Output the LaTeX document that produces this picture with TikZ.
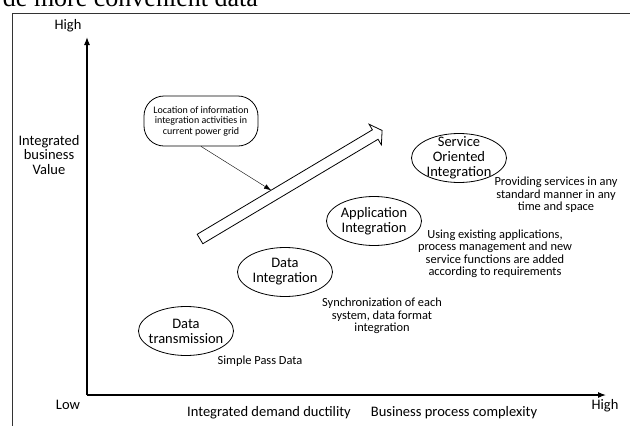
\documentclass[tikz,border=0pt]{standalone}
\usepackage{fontspec}
\setmainfont{Carlito}
\newfontfamily\bodyserif{Liberation Serif}
\usetikzlibrary{shapes.geometric,arrows.meta}
\tikzset{
  stage/.style={draw,ellipse,line width=0.8pt,minimum width=95pt,minimum height=49pt},
  stagetext/.style={align=center,inner sep=0pt,font=\fontsize{14.5}{15}\selectfont},
  note/.style={align=center,inner sep=0pt,font=\fontsize{12.4}{12.5}\selectfont},
  axislabel/.style={align=center,inner sep=0pt,font=\fontsize{14.5}{14.5}\selectfont},
  axis/.style={line width=1.1pt,-{Latex[length=8pt,width=6pt]}},
}
\begin{document}
\begin{tikzpicture}[x=1pt,y=-1pt]
\useasboundingbox (0,0) rectangle (630,426);
% text of the page above the figure
\node [anchor=base east,inner sep=0pt,font=\bodyserif\fontsize{26}{26}\selectfont] (pagetext) at (258,6) {de more convenient data};
% frame
\draw [line width=0.9pt,black!80] (12,440) -- (12,13) -- (640,13);
% axes
\coordinate (origin) at (87,395);
\coordinate (ytop) at (87,37);
\coordinate (xend) at (606,395);
\draw [axis] (origin) -- (ytop);
\draw [axis] (origin) -- (xend);
\node [axislabel] (yhigh) at (68,26) {High};
\node [axislabel] (ylow) at (68,405) {Low};
\node [axislabel] (xhigh) at (605,406) {High};
\node [axislabel] (yname) at (49,155) {Integrated\\business\\Value};
\node [axislabel] (xname) at (269,413) {Integrated demand ductility};
\node [axislabel] (xcomplex) at (454,413) {Business process complexity};
% trend arrow
\begin{scope}[shift={(200,239)},rotate=30.8]
\draw [line width=0.8pt,line join=miter] (0,-5.5) -- (204,-5.5) -- (204,-12) -- (212,0)
  -- (204,12) -- (204,5.5) -- (0,5.5) -- cycle;
\coordinate (hit) at (86,-5.5);
\end{scope}
% callout
\node [draw,rounded corners=20pt,line width=0.8pt,minimum width=114pt,minimum height=50pt,
  align=center,font=\fontsize{10}{10.5}\selectfont] (callout) at (201,121)
  {Location of information\\integration activities in\\current power grid};
\draw [-{Latex[length=7pt,width=5pt]}] (callout.south) -- (hit);
% stages
\node [stage] (service) at (459,158) {};
\node [stagetext] (servicetext) at (service) {Service\\Oriented\\Integration};
\node [stage] (application) at (374,221) {};
\node [stagetext] (applicationtext) at (application) {Application\\Integration};
\node [stage] (dataint) at (285,272) {};
\node [stagetext] (datainttext) at (dataint) {Data\\Integration};
\node [stage] (transmission) at (186,331) {};
\node [stagetext] (transmissiontext) at (transmission) {Data\\transmission};
% notes
\node [note] (servicenote) at (556,195) {Providing services in any\\standard manner in any\\time and space};
\node [note] (applicationnote) at (495,254) {Using existing applications,\\process management and new\\service functions are added\\according to requirements};
\node [note] (datanote) at (382,316) {Synchronization of each\\system, data format\\integration};
\node [note] (transmissionnote) at (260,361) {Simple Pass Data};
\end{tikzpicture}
\end{document}
